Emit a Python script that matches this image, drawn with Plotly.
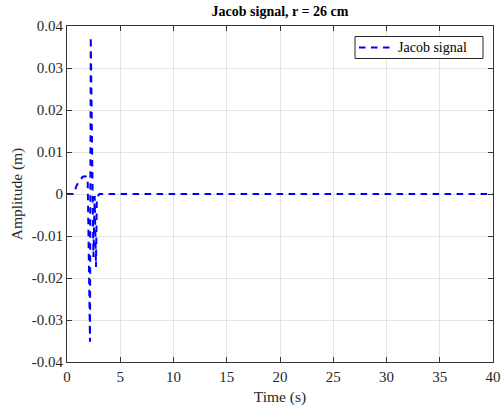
import plotly.graph_objects as go

# Sampled response (time in seconds, amplitude in metres)
time_s = [0, 0.66, 0.85, 1.03, 1.47, 1.75, 1.94, 2.16, 2.23, 2.48, 2.60, 2.72, 2.80, 3.03, 40]
amplitude_m = [0, 0, 0.0017, 0.0026, 0.0041, 0.0042, 0.0038, -0.0352, 0.0374,
               -0.0150, -0.0005, -0.0174, -0.0010, 0, 0]

x_ticks = [0, 5, 10, 15, 20, 25, 30, 35, 40]
y_ticks = [-0.04, -0.03, -0.02, -0.01, 0, 0.01, 0.02, 0.03, 0.04]
y_tick_labels = ["-0.04", "-0.03", "-0.02", "-0.01", "0", "0.01", "0.02", "0.03", "0.04"]
series_name = "Jacob signal"

FONT = "Liberation Serif"
AXIS_COLOR = "#333333"
GRID_COLOR = "#e3e3e3"
LINE_STYLE = dict(color="#0000ff", width=2, dash="6.5px,5.5px")

# figure / plot-area geometry in pixels
W, H = 501, 406
ML, MR, MT, MB = 67, 8, 26, 44
PW, PH = W - ML - MR, H - MT - MB


def px_x(x):
    return (x - ML) / PW


def px_y(y):
    return (H - MB - y) / PH


fig = go.Figure()
fig.add_trace(go.Scatter(x=time_s, y=amplitude_m, mode="lines",
                         name=series_name, line=LINE_STYLE, showlegend=False))

axis_common = dict(
    showline=True, linecolor=AXIS_COLOR, linewidth=1, mirror="ticks",
    ticks="inside", ticklen=5, tickwidth=1, tickcolor=AXIS_COLOR,
    showgrid=True, gridcolor=GRID_COLOR, gridwidth=1, zeroline=False,
    automargin=False,
    tickfont=dict(family=FONT, size=15, color="#262626"),
)

# boxed legend in the upper right corner of the axes
legend_box = dict(x0=px_x(355), x1=px_x(483), y0=px_y(58.5), y1=px_y(36.5))
legend_mid = (legend_box["y0"] + legend_box["y1"]) / 2
fig.add_shape(type="rect", xref="paper", yref="paper", **legend_box,
              line=dict(color="#262626", width=1), fillcolor="white", layer="above")
fig.add_shape(type="line", xref="paper", yref="paper",
              x0=px_x(359), x1=px_x(392), y0=legend_mid, y1=legend_mid,
              line=LINE_STYLE, layer="above")
fig.add_annotation(text=series_name, xref="paper", yref="paper",
                   x=px_x(396), y=legend_mid, xanchor="left", yanchor="middle",
                   showarrow=False, font=dict(family=FONT, size=14, color="#000000"))

fig.update_layout(
    width=W, height=H,
    margin=dict(l=ML, r=MR, t=MT, b=MB),
    paper_bgcolor="white", plot_bgcolor="white",
    font=dict(family=FONT, size=15, color="#262626"),
    title=dict(text="<b>Jacob signal, r = 26 cm</b>", x=280 / W,
               xanchor="center", y=1 - 11.5 / H, yanchor="middle",
               font=dict(family=FONT, size=14, color="#000000")),
    xaxis=dict(range=[0, 40], tickvals=x_ticks, ticklabelstandoff=1,
               title=dict(text="Time (s)", font=dict(family=FONT, size=15.5), standoff=8),
               **axis_common),
    yaxis=dict(range=[-0.04, 0.04], tickvals=y_ticks, ticktext=y_tick_labels,
               title=dict(text="Amplitude (m)", font=dict(family=FONT, size=15.5), standoff=5),
               **axis_common),
    showlegend=False,
)

fig.write_html("out.html")
